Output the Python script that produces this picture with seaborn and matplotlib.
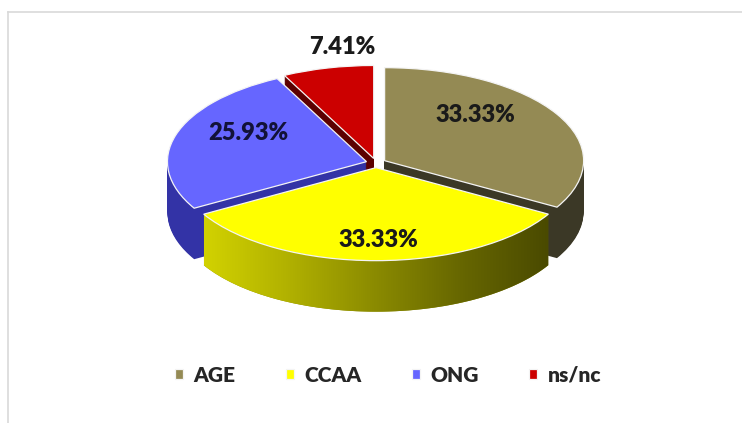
import numpy as np
import matplotlib
matplotlib.use("Agg")
import matplotlib.pyplot as plt
from matplotlib.colors import LinearSegmentedColormap
from matplotlib.patches import Polygon
import seaborn as sns

sns.set_theme(style="white")
plt.rcParams['font.family'] = ['Lato', 'DejaVu Sans']

# data
labels = ["AGE", "CCAA", "ONG", "ns/nc"]
shares = [33.33, 33.33, 25.93, 7.41]
pct_text = ["33.33%", "33.33%", "25.93%", "7.41%"]

top_colors = ["#948a54", "#ffff00", "#6666ff", "#cc0000"]
side_colors = ["#3b3826", "#8c8c00", "#3333a6", "#5c0000"]
explode = [0.05, 0.05, 0.05, 0.05]

# geometry of the fake 3d pie (pixels of the 742x423 canvas)
cx, cy, rx, ry = 376, 163, 199, 93
depth = 51 / ry
n_layers = 52

fig = plt.figure(figsize=(7.42, 4.23), dpi=100)
ax = fig.add_axes([8 / 742, 0, 1 - 8 / 742, (423 - 12) / 423])

# side walls: stack of shifted pies, deepest first
for k in range(n_layers, 0, -1):
    ax.pie(shares, explode=explode, startangle=90, counterclock=False,
           colors=side_colors, center=(0, -depth * k / n_layers), radius=1,
           frame=True, wedgeprops=dict(linewidth=0))

# shaded front wall of CCAA
start = 90 - 360 * shares[0] / 100
end = start - 360 * shares[1] / 100
mid = np.deg2rad((start + end) / 2)
off = np.array([np.cos(mid), np.sin(mid)]) * explode[1]
t = np.deg2rad(np.linspace(end, start, 120))
top_arc = np.column_stack([np.cos(t), np.sin(t)]) + off
bot_arc = top_arc[::-1] - [0, depth]
wall = Polygon(np.vstack([top_arc, bot_arc]), closed=True, transform=ax.transData,
               facecolor="none", edgecolor="none")
ax.add_patch(wall)
grad_cmap = LinearSegmentedColormap.from_list(
    "wall", ["#d2d200", "#b0b000", "#8a8a00", "#666600", "#4a4a00"])
img = ax.imshow(np.linspace(0, 1, 256)[None, :], cmap=grad_cmap, aspect="auto",
                extent=(top_arc[:, 0].min(), top_arc[:, 0].max(),
                        bot_arc[:, 1].min(), top_arc[:, 1].max()),
                zorder=3)
img.set_clip_path(wall)

# top faces
wedges, _ = ax.pie(shares, explode=explode, startangle=90, counterclock=False,
                   colors=top_colors, center=(0, 0), radius=1, frame=True,
                   wedgeprops=dict(edgecolor="#f4f4f4", linewidth=0.9, zorder=4))
for w in wedges:
    w.set_zorder(4)

# value labels
label_xy = [(0.50, 0.52), (0.01, -0.83), (-0.64, 0.32), (-0.17, 1.25)]
label_colors = ["#1a1a1a", "#1a1a1a", "#121238", "#1a1a1a"]
for txt, (lx, ly), col in zip(pct_text, label_xy, label_colors):
    ax.text(lx, ly, txt, ha="center", va="center", fontsize=17,
            fontweight="heavy", color=col, zorder=6)

ax.set_aspect("auto")
ax.set_xlim((8 - cx) / rx, (742 - cx) / rx)
ax.set_ylim(-(423 - cy) / ry, -(12 - cy) / ry)
ax.set_xticks([])
ax.set_yticks([])
for side in ["right", "bottom"]:
    ax.spines[side].set_visible(False)
for side in ["left", "top"]:
    ax.spines[side].set_color("#d9d9d9")
    ax.spines[side].set_linewidth(1.2)

ax.legend(wedges, labels, loc="center", ncol=4, frameon=False,
          bbox_to_anchor=(388 / 742, 1 - 375 / 423), bbox_transform=fig.transFigure,
          prop=dict(family="Lato", weight="heavy", size=15),
          handlelength=0.4, handleheight=0.4, handletextpad=0.5, columnspacing=2.4)

fig.savefig("out.png", dpi=100)
